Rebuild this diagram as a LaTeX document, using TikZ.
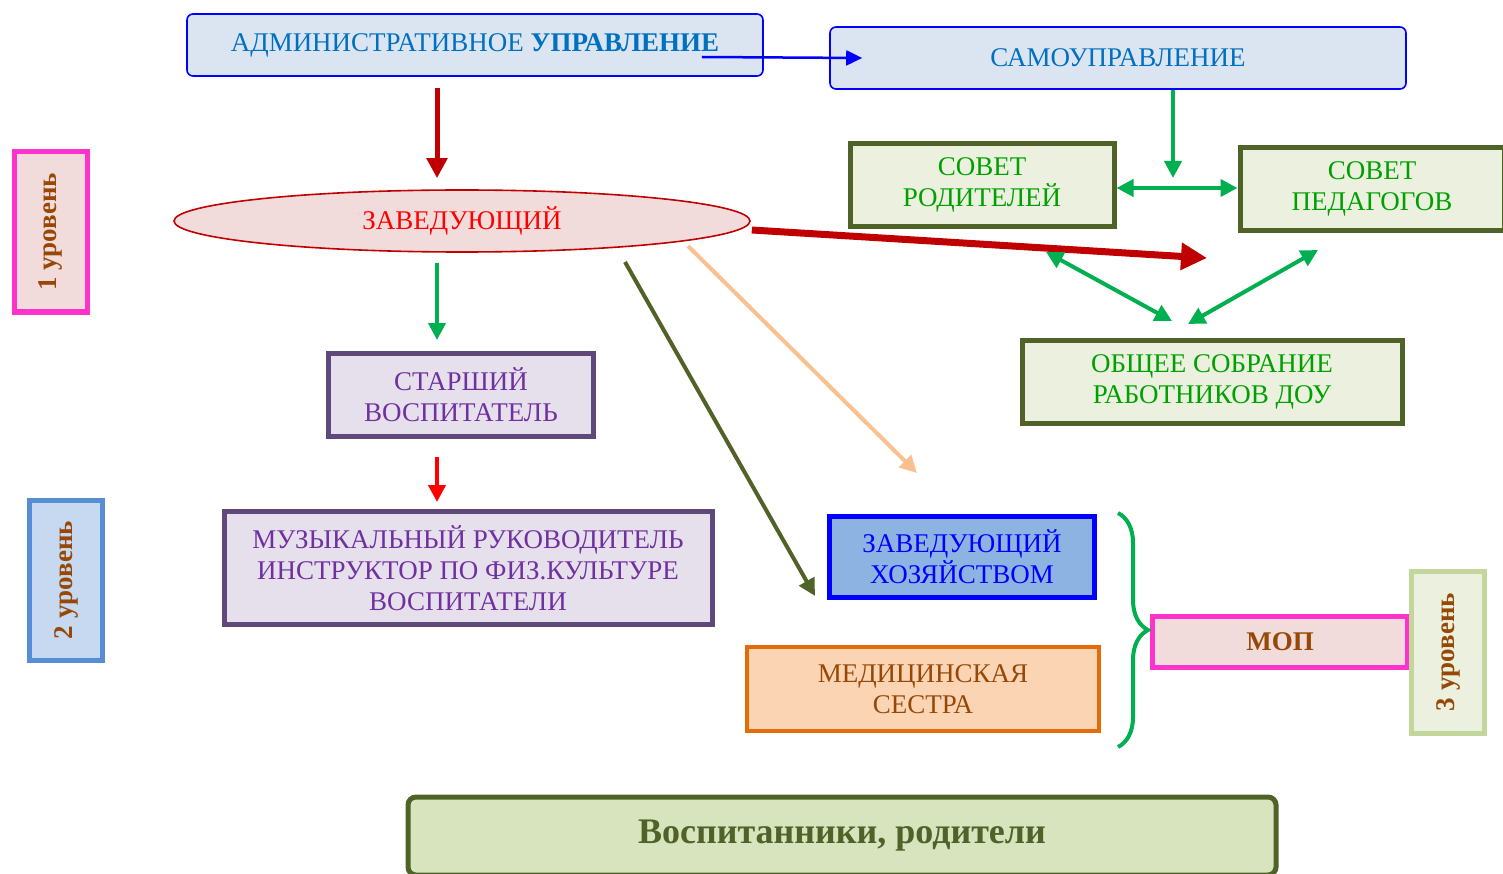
\documentclass[tikz,border=0pt]{standalone}
\usepackage{fontspec}
\setmainfont{Liberation Serif}
\usetikzlibrary{arrows.meta,shapes.geometric,decorations.pathreplacing}
\definecolor{admfill}{HTML}{DBE5F1}
\definecolor{admtext}{HTML}{0070C0}
\definecolor{darkred}{HTML}{C00000}
\definecolor{pinkfill}{HTML}{F2DCDB}
\definecolor{lilac}{HTML}{E5E0EC}
\definecolor{plum}{HTML}{5F497A}
\definecolor{purpletext}{HTML}{7030A0}
\definecolor{olivegreen}{HTML}{4F6228}
\definecolor{palegreen}{HTML}{EBF1DE}
\definecolor{sovgreen}{HTML}{00A000}
\definecolor{arrgreen}{HTML}{00B050}
\definecolor{peach}{HTML}{FAC090}
\definecolor{hozfill}{HTML}{8DB3E2}
\definecolor{medfill}{HTML}{FBD4B4}
\definecolor{medline}{HTML}{E36C09}
\definecolor{browntext}{HTML}{974806}
\definecolor{magline}{HTML}{FF33CC}
\definecolor{lvltwofill}{HTML}{C6D9F1}
\definecolor{lvltwoline}{HTML}{558ED5}
\definecolor{lvlthreeline}{HTML}{C3D69B}
\definecolor{bottomfill}{HTML}{D7E4BD}
\tikzset{
  box/.style={draw, rectangle, line width=5pt, inner sep=0pt, align=center,
    font=\fontsize{27}{31}\selectfont},
  topbox/.style={box, rounded corners=6pt, line width=1.6pt, draw=blue, fill=admfill,
    text=admtext, minimum width=576pt, minimum height=62pt},
  sovbox/.style={box, draw=olivegreen, fill=palegreen, text=sovgreen},
  lvlbox/.style={box, minimum width=73pt, minimum height=160pt, text=browntext,
    font=\fontsize{27}{31}\selectfont\bfseries},
  arr/.style={line width=4pt, -{Triangle[length=17pt,width=17pt]}},
  dblarr/.style={line width=4pt, arrgreen, {Triangle[length=17pt,width=17pt]}-{Triangle[length=17pt,width=17pt]}}
}
\begin{document}
\begin{tikzpicture}[x=1pt,y=-1pt]
  \useasboundingbox (0,0) rectangle (1503,874);
  \clip (0,0) rectangle (1503,874);
  % level labels
  \node [lvlbox, draw=magline, fill=pinkfill] (lvlone) at (51,232) {\rotatebox{90}{1 уровень}};
  \node [lvlbox, draw=lvltwoline, fill=lvltwofill] (lvltwo) at (66,580) {\rotatebox{90}{2 уровень}};
  % top row
  \node [topbox] (adm) at (475,45) {\raisebox{3pt}{АДМИНИСТРАТИВНОЕ \textbf{УПРАВЛЕНИЕ}}};
  \node [topbox] (samo) at (1118,58) {САМОУПРАВЛЕНИЕ};
  \node [ellipse, draw=darkred, line width=1.6pt, fill=pinkfill, text=red, inner sep=0pt,
    minimum width=576pt, minimum height=62pt, font=\fontsize{27}{31}\selectfont] (zav) at (462,221) {ЗАВЕДУЮЩИЙ};
  % councils
  \node [sovbox, minimum width=264pt, minimum height=83pt] (sovrod) at (982,185) {СОВЕТ\\РОДИТЕЛЕЙ};
  \node [sovbox, minimum width=264pt, minimum height=83pt] (sovped) at (1372,189) {СОВЕТ\\ПЕДАГОГОВ};
  \node [sovbox, minimum width=380pt, minimum height=83pt] (osob) at (1212,382) {ОБЩЕЕ СОБРАНИЕ\\РАБОТНИКОВ ДОУ};
  % staff
  \node [box, draw=plum, fill=lilac, text=purpletext, minimum width=265pt, minimum height=83pt] (star) at (461,395) {СТАРШИЙ\\ВОСПИТАТЕЛЬ};
  \node [box, draw=plum, fill=lilac, text=purpletext, minimum width=488pt, minimum height=113pt] (muz) at (468,568)
    {МУЗЫКАЛЬНЫЙ РУКОВОДИТЕЛЬ\\ИНСТРУКТОР ПО ФИЗ.КУЛЬТУРЕ\\ВОСПИТАТЕЛИ};
  \node [box, draw=blue, fill=hozfill, text=blue, minimum width=265pt, minimum height=81pt] (hoz) at (962,557) {ЗАВЕДУЮЩИЙ\\ХОЗЯЙСТВОМ};
  \node [box, draw=medline, line width=4pt, fill=medfill, text=browntext, minimum width=352pt, minimum height=84pt] (med) at (923,689) {МЕДИЦИНСКАЯ\\СЕСТРА};
  \node [box, draw=magline, fill=pinkfill, text=browntext, minimum width=255pt, minimum height=51pt,
    font=\fontsize{27}{31}\selectfont\bfseries] (mop) at (1280,642) {МОП};
  \node [lvlbox, draw=lvlthreeline, fill=palegreen, minimum height=162pt] (lvlthree) at (1448,652) {\rotatebox{90}{3 уровень}};
  \node [box, rounded corners=8pt, draw=olivegreen, fill=bottomfill, text=olivegreen, minimum width=868pt, minimum height=78pt,
    font=\fontsize{36}{40}\selectfont\bfseries] (vosp) at (842,836) {Воспитанники, родители};
  % free ends
  \coordinate (redtip) at (1207,258);
  \coordinate (peachtip) at (917,473);
  \coordinate (samotip) at (1173,178);
  \coordinate (bracetop) at (1118,513);
  \coordinate (bracebot) at (1118,747);
  % connectors
  \draw [blue, line width=2.5pt, -{Triangle[length=16pt,width=15pt]}] ([shift={(-62,12)}]adm.east) -- ([xshift=33pt]samo.west);
  \draw [arr, darkred, line width=5pt, -{Triangle[length=20pt,width=20pt]}] ([shift={(-38,11)}]adm.south) -- ([shift={(-25,-11)}]zav.north);
  \draw [arr, darkred, line width=7pt, -{Triangle[length=26pt,width=26pt]}] ([shift={(1,9)}]zav.east) -- (redtip);
  \draw [arr, arrgreen] ([shift={(-25,10)}]zav.south) -- ([shift={(-24,-11)}]star.north);
  \draw [arr, red] ([shift={(-24,18)}]star.south) -- ([shift={(-31,-7)}]muz.north);
  \draw [arr, olivegreen] ([shift={(163,41)}]zav.center) -- ([shift={(-12,-4)}]hoz.south west);
  \draw [arr, peach] ([shift={(226,25)}]zav.center) -- (peachtip);
  \draw [arr, arrgreen] ([xshift=55pt]samo.south) -- (samotip);
  \draw [dblarr] ([yshift=-3pt]sovrod.east) -- ([yshift=1pt]sovped.west);
  \draw [dblarr] ([shift={(64,23)}]sovrod.south) -- ([shift={(-40,-17)}]osob.north);
  \draw [dblarr] ([shift={(-54,17)}]sovped.south) -- ([shift={(-24,-14)}]osob.north);
  \draw [arrgreen, line width=4pt, decorate, decoration={brace, amplitude=30pt}] (bracetop) -- (bracebot);
\end{tikzpicture}
\end{document}
